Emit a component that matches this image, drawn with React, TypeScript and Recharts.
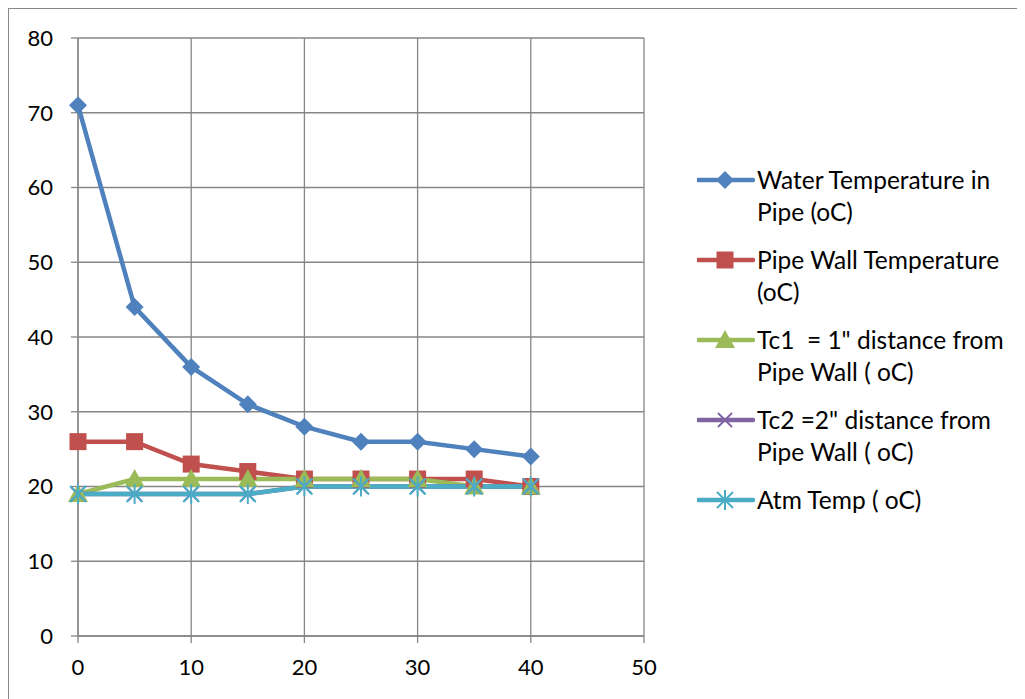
import React from "react";
import { LineChart, Line, XAxis, YAxis, CartesianGrid } from "recharts";

const times = [0, 5, 10, 15, 20, 25, 30, 35, 40];
const waterTemp = [71, 44, 36, 31, 28, 26, 26, 25, 24];
const wallTemp = [26, 26, 23, 22, 21, 21, 21, 21, 20];
const tc1Temp = [19, 21, 21, 21, 21, 21, 21, 20, 20];
const tc2Temp = [19, 19, 19, 19, 20, 20, 20, 20, 20];
const atmTemp = [19, 19, 19, 19, 20, 20, 20, 20, 20];

const xTicks = [0, 10, 20, 30, 40, 50];
const yTicks = [0, 10, 20, 30, 40, 50, 60, 70, 80];

const seriesNames = [
  ["Water Temperature in", "Pipe (oC)"],
  ["Pipe Wall Temperature", "(oC)"],
  ["Tc1  = 1\" distance from", "Pipe Wall ( oC)"],
  ["Tc2 =2\" distance from", "Pipe Wall ( oC)"],
  ["Atm Temp ( oC)"],
];

const COLORS = ["#4f81bd", "#c0504d", "#9bbb59", "#8064a2", "#4bacc6"];
const KEYS = ["water", "wall", "tc1", "tc2", "atm"];
const FONT = "Lato, 'Open Sans', sans-serif";

const data = times.map((t, i) => ({
  t,
  water: waterTemp[i],
  wall: wallTemp[i],
  tc1: tc1Temp[i],
  tc2: tc2Temp[i],
  atm: atmTemp[i],
}));

function Marker({ idx, cx, cy }: { idx: number; cx: number; cy: number }) {
  const c = COLORS[idx];
  if (idx === 0) {
    const r = 9;
    return <polygon points={`${cx},${cy - r} ${cx + r},${cy} ${cx},${cy + r} ${cx - r},${cy}`} fill={c} />;
  }
  if (idx === 1) {
    const r = 8.5;
    return <rect x={cx - r} y={cy - r} width={r * 2} height={r * 2} fill={c} />;
  }
  if (idx === 2) {
    return <polygon points={`${cx},${cy - 10} ${cx + 10},${cy + 8} ${cx - 10},${cy + 8}`} fill={c} />;
  }
  if (idx === 3) {
    const r = 7;
    return (
      <g stroke={c} strokeWidth={2}>
        <line x1={cx - r} y1={cy - r} x2={cx + r} y2={cy + r} />
        <line x1={cx - r} y1={cy + r} x2={cx + r} y2={cy - r} />
      </g>
    );
  }
  const r = 8;
  return (
    <g stroke={c} strokeWidth={2}>
      <line x1={cx - r} y1={cy - r} x2={cx + r} y2={cy + r} />
      <line x1={cx - r} y1={cy + r} x2={cx + r} y2={cy - r} />
      <line x1={cx} y1={cy - r - 2} x2={cx} y2={cy + r + 2} />
    </g>
  );
}

const makeDot = (idx: number) => (props: any) => {
  const { cx, cy, index } = props;
  if (cx == null || cy == null) return <g key={`d${idx}-${index}`} />;
  return (
    <g key={`d${idx}-${index}`}>
      <Marker idx={idx} cx={cx} cy={cy} />
    </g>
  );
};

function ChartLegend() {
  return (
    <div style={{ position: "absolute", left: 688, top: 0, fontFamily: FONT }}>
      {seriesNames.map((lines, i) => (
        <div key={i} style={{ position: "absolute", top: 155 + i * 80, left: 0, width: 330 }}>
          <svg width={58} height={20} style={{ position: "absolute", left: 0, top: 6 }}>
            <line x1={1} y1={10} x2={56} y2={10} stroke={COLORS[i]} strokeWidth={4.5} strokeLinecap="round" />
            <Marker idx={i} cx={28} cy={10} />
          </svg>
          <div style={{ position: "absolute", left: 60, top: 0, fontSize: 24.5, lineHeight: "32px", color: "#000", whiteSpace: "nowrap" }}>
            {lines.map((l, j) => (
              <div key={j} style={{ whiteSpace: "pre" }}>{l}</div>
            ))}
          </div>
        </div>
      ))}
    </div>
  );
}

export default function App() {
  return (
    <div style={{ position: "relative", width: 1015, height: 700, border: "1px solid #888", background: "#fff" }}>
      <LineChart width={1015} height={690} data={data} margin={{ top: 29, right: 380, bottom: 30, left: 0 }}>
        <CartesianGrid stroke="#868686" strokeWidth={1.3} />
        <XAxis
          dataKey="t"
          type="number"
          domain={[0, 50]}
          ticks={xTicks}
          interval={0}
          stroke="#868686"
          strokeWidth={1.3}
          tickSize={7}
          tickMargin={16}
          height={33}
          tick={{ fill: "#000", fontSize: 22, fontFamily: FONT }}
        />
        <YAxis
          type="number"
          domain={[0, 80]}
          ticks={yTicks}
          interval={0}
          width={69}
          stroke="#868686"
          strokeWidth={1.3}
          tickSize={7}
          tickMargin={18}
          tick={{ fill: "#000", fontSize: 22, fontFamily: FONT }}
        />
        {KEYS.map((k, i) => (
          <Line
            key={k}
            dataKey={k}
            type="linear"
            stroke={COLORS[i]}
            strokeWidth={4.5}
            dot={makeDot(i)}
            activeDot={false}
            isAnimationActive={false}
          />
        ))}
      </LineChart>
      <ChartLegend />
    </div>
  );
}
